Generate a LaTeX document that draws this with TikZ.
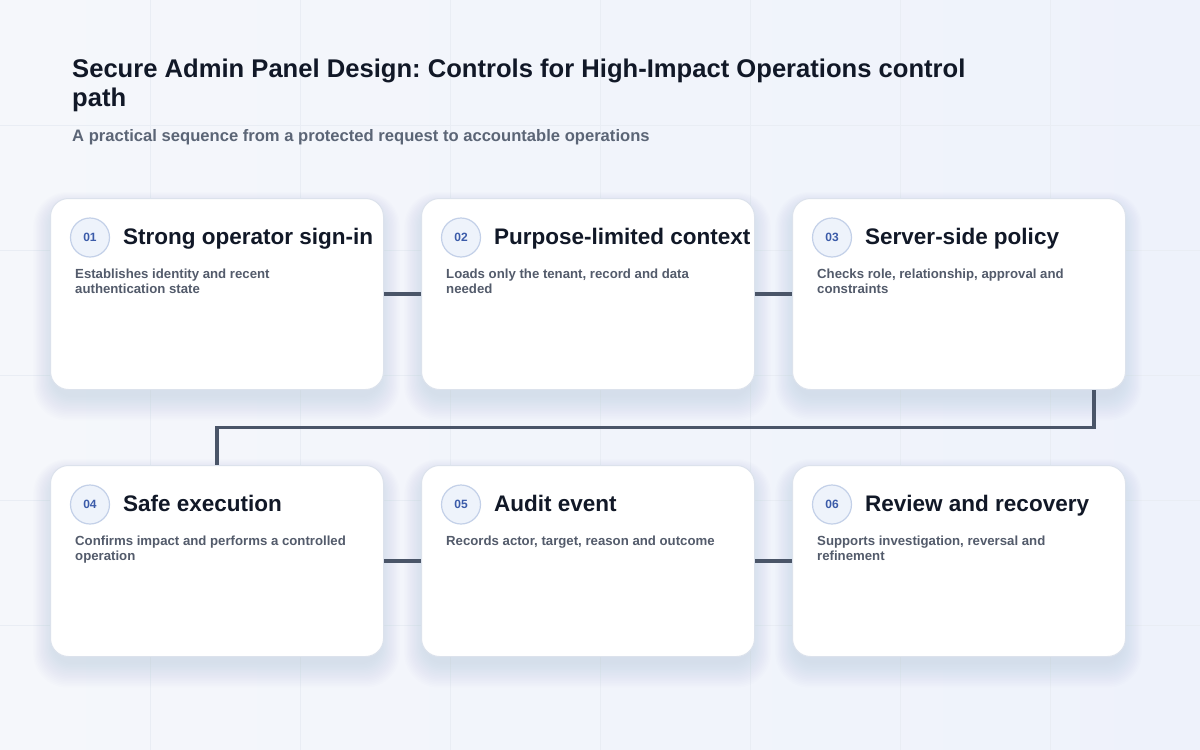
\documentclass[tikz,border=0pt]{standalone}
\usepackage{fontspec}
\setmainfont{Liberation Sans}
\usetikzlibrary{calc}
\definecolor{bgA}{HTML}{F5F7FB}
\definecolor{bgB}{HTML}{EEF2FB}
\definecolor{gridc}{HTML}{E9EDF4}
\definecolor{ink}{HTML}{111827}
\definecolor{subc}{HTML}{5B6576}
\definecolor{descc}{HTML}{535B6B}
\definecolor{edgec}{HTML}{DCE2EC}
\definecolor{linkc}{HTML}{4A5568}
\definecolor{shadowc}{HTML}{5A6A8A}
\definecolor{badgefill}{HTML}{EEF3FB}
\definecolor{badgeedge}{HTML}{C3D0E8}
\definecolor{badgetext}{HTML}{3B5BA9}
% #1 name, #2 x, #3 y, #4 number, #5 title, #6 description, #7 baseline offset of last description line
\newcommand\mkcard[7]{%
  \foreach \k in {1,...,16}{
    \fill[shadowc, opacity=0.008, rounded corners=18pt+\k*1pt]
      (#2-\k*1.3+4,#3+10-\k*1.0) rectangle (#2+333+\k*1.3-4,#3+191+6+\k*1.6);
  }
  \node[card] (#1) at (#2,#3) {};
  \node[badge] (#1b) at ($(#1.north west)+(40,39.5)$) {#4};
  \node[ctitle] (#1t) at ($(#1.north west)+(73,46)$) {#5};
  \node[cdesc] (#1d) at ($(#1.north west)+(25,#7)$) {#6};
}
\begin{document}
\frenchspacing
\begin{tikzpicture}[x=1pt,y=-1pt,
  card/.style={draw=edgec, line width=1pt, fill=white, rounded corners=18pt,
    minimum width=333pt, minimum height=191pt, anchor=north west, inner sep=0pt},
  badge/.style={circle, draw=badgeedge, fill=badgefill, line width=1.2pt, minimum size=39pt,
    inner sep=0pt, text=badgetext, font=\fontsize{12}{14}\selectfont\bfseries},
  ctitle/.style={anchor=base west, inner sep=0pt, text=ink, font=\fontsize{22.5}{26}\selectfont\bfseries},
  cdesc/.style={anchor=base west, inner sep=0pt, text=descc, align=left, font=\fontsize{13.2}{15}\selectfont\bfseries},
  connector/.style={draw=linkc, line width=3.5pt}
]
% background
\shade[left color=bgA, right color=bgB] (0,0) rectangle (1200,750);
\useasboundingbox (0,0) rectangle (1200,750);
\foreach \x in {150,300,...,1050} \draw[gridc, line width=0.7pt] (\x,0) -- (\x,750);
\foreach \y in {125,250,...,625} \draw[gridc, line width=0.7pt] (0,\y) -- (1200,\y);
% heading
\node[anchor=base west, inner sep=0pt, align=left, text=ink, font=\fontsize{25.6}{29.5}\selectfont\bfseries] (title) at (72,106.5)
  {Secure Admin Panel Design: Controls for High-Impact Operations control\\path};
\node[anchor=base west, inner sep=0pt, text=subc, font=\fontsize{16.6}{19}\selectfont\bfseries] (subtitle) at (72,141)
  {A practical sequence from a protected request to accountable operations};
% cards
\mkcard{c1}{50}{198}{01}{Strong operator sign-in}{Establishes identity and recent\\authentication state}{95}
\mkcard{c2}{421}{198}{02}{Purpose-limited context}{Loads only the tenant, record and data\\needed}{95}
\mkcard{c3}{792}{198}{03}{Server-side policy}{Checks role, relationship, approval and\\constraints}{95}
\mkcard{c4}{50}{465}{04}{Safe execution}{Confirms impact and performs a controlled\\operation}{95}
\mkcard{c5}{421}{465}{05}{Audit event}{Records actor, target, reason and outcome}{80}
\mkcard{c6}{792}{465}{06}{Review and recovery}{Supports investigation, reversal and\\refinement}{95}
% connectors
\coordinate (j1) at ($(c3.south east)+(-32,0)$);
\draw[connector] (c1.east) -- (c2.west);
\draw[connector] (c2.east) -- (c3.west);
\draw[connector] (j1) |- ($(c3.south)!0.5!(c4.north)$) -| (c4.north);
\draw[connector] (c4.east) -- (c5.west);
\draw[connector] (c5.east) -- (c6.west);
\end{tikzpicture}
\end{document}
